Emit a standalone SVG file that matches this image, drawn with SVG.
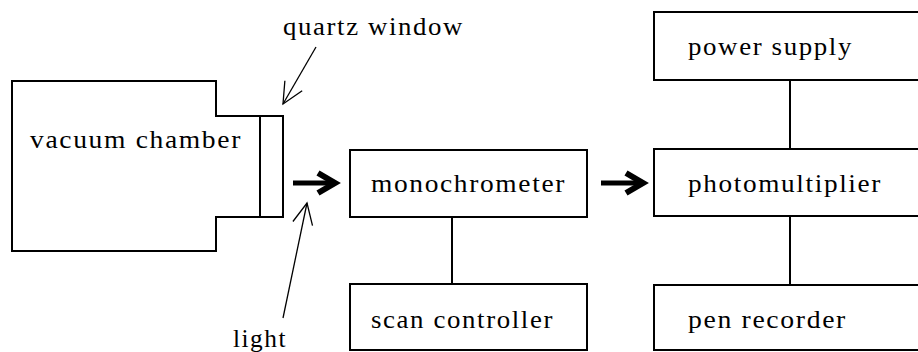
<svg xmlns="http://www.w3.org/2000/svg" width="918" height="352" viewBox="0 0 918 352">
<style>
.box{fill:none;stroke:#000;stroke-width:2}
.lbl{font-family:"Liberation Serif","Times New Roman",serif;font-size:25px;letter-spacing:1.5px;fill:#000}
.link{stroke:#000;stroke-width:2;fill:none}
.thin{stroke:#000;stroke-width:1.3;fill:none}
.thick{stroke:#000;stroke-width:5;fill:none}
.chev{stroke:#000;stroke-width:6;fill:none;stroke-linejoin:miter}
</style>
<defs>
<marker id="open" markerUnits="userSpaceOnUse" markerWidth="30" markerHeight="30" viewBox="-25 -15 30 30" refX="0" refY="0" orient="auto">
<path d="M-21,-10 L0,0 L-21,10" fill="none" stroke="#000" stroke-width="1.3"/>
</marker>
</defs>
<rect width="918" height="352" fill="#fff"/>
<g id="vacuum-chamber">
<path class="box" d="M12,81 H216 V116 H283 V217 H216 V251 H12 Z"/>
<line class="box" x1="260" y1="116" x2="260" y2="217"/>
<text class="lbl" x="30" y="148" textLength="212" lengthAdjust="spacingAndGlyphs">vacuum chamber</text>
</g>
<g id="quartz-window-label">
<text class="lbl" x="283" y="35" textLength="181" lengthAdjust="spacingAndGlyphs">quartz window</text>
</g>
<g id="light-label">
<text class="lbl" x="233" y="347" textLength="54" lengthAdjust="spacingAndGlyphs">light</text>
</g>
<g id="monochrometer">
<rect class="box" x="350" y="150" width="237" height="67"/>
<text class="lbl" x="371" y="192" textLength="195" lengthAdjust="spacingAndGlyphs">monochrometer</text>
</g>
<g id="scan-controller">
<rect class="box" x="350" y="284" width="237" height="66"/>
<text class="lbl" x="371" y="328" textLength="183" lengthAdjust="spacingAndGlyphs">scan controller</text>
</g>
<g id="power-supply">
<rect class="box" x="654" y="12" width="300" height="68"/>
<text class="lbl" x="688" y="55" textLength="165" lengthAdjust="spacingAndGlyphs">power supply</text>
</g>
<g id="photomultiplier">
<rect class="box" x="654" y="149" width="300" height="67"/>
<text class="lbl" x="688" y="192" textLength="194" lengthAdjust="spacingAndGlyphs">photomultiplier</text>
</g>
<g id="pen-recorder">
<rect class="box" x="654" y="285" width="300" height="65"/>
<text class="lbl" x="688" y="328" textLength="159" lengthAdjust="spacingAndGlyphs">pen recorder</text>
</g>
<g id="connectors">
<line class="link" x1="452" y1="217" x2="452" y2="284"/>
<line class="link" x1="790" y1="80" x2="790" y2="149"/>
<line class="link" x1="790" y1="216" x2="790" y2="285"/>
<line class="thin" x1="316" y1="47" x2="283" y2="104" marker-end="url(#open)"/>
<line class="thin" x1="283" y1="318" x2="307" y2="203" marker-end="url(#open)"/>
<line class="thick" x1="293" y1="183" x2="334" y2="183"/>
<polyline class="chev" points="318,173 335,183 318,193"/>
<line class="thick" x1="601" y1="183" x2="642" y2="183"/>
<polyline class="chev" points="626,173 643,183 626,193"/>
</g>
</svg>
